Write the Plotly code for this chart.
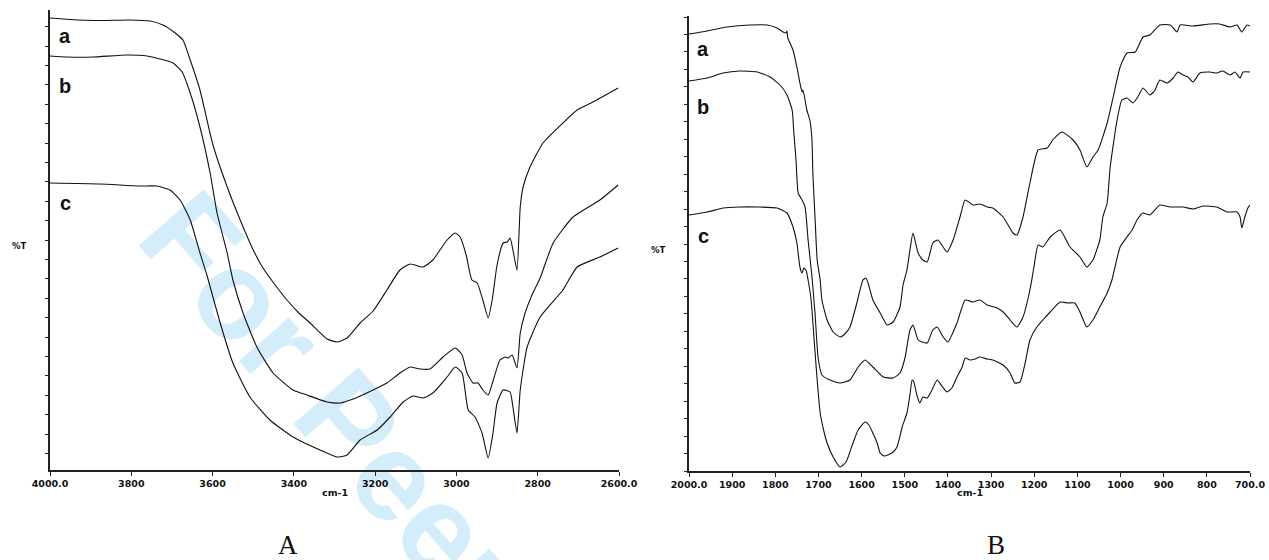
import plotly.graph_objects as go

W, H = 1269, 560

# ---------------- Panel A: 4000-2600 cm-1 ----------------
A_A_WN = [4000, 3951, 3877, 3803, 3754, 3722, 3692, 3673, 3655, 3631, 3599, 3564, 3532, 3500, 3476,
          3446, 3417, 3385, 3360, 3318, 3294, 3269, 3237, 3205, 3171, 3139, 3114, 3082, 3058, 3023,
          3003, 2991, 2976, 2962, 2949, 2935, 2922, 2912, 2900, 2885, 2875, 2868, 2861, 2851, 2843,
          2836, 2819, 2787, 2738, 2703, 2664, 2602]
A_A_T = [90.4, 90.1, 89.9, 90.0, 89.8, 89.0, 87.4, 86.0, 82.0, 76.0, 65.0, 56.6, 50.0, 44.0, 40.4,
         37.0, 34.0, 31.2, 29.4, 26.2, 25.6, 26.4, 29.4, 31.8, 36.0, 40.0, 41.2, 40.6, 42.0, 46.0,
         47.4, 46.6, 43.0, 38.0, 37.4, 34.0, 30.4, 34.0, 41.0, 45.4, 45.6, 46.4, 44.0, 40.0, 52.6,
         56.6, 60.6, 65.4, 69.4, 72.0, 73.6, 76.4]

A_B_WN = [4000, 3958, 3894, 3811, 3761, 3729, 3697, 3675, 3655, 3631, 3606, 3589, 3564, 3550, 3525,
          3491, 3451, 3402, 3368, 3318, 3286, 3254, 3205, 3171, 3139, 3114, 3090, 3065, 3033, 3003,
          2986, 2974, 2959, 2947, 2935, 2922, 2910, 2893, 2880, 2873, 2863, 2851, 2843, 2831, 2812,
          2794, 2762, 2713, 2647, 2602]
A_B_T = [82.8, 82.6, 82.6, 83.0, 82.8, 82.2, 81.4, 79.6, 75.4, 68.6, 59.4, 51.4, 43.4, 38.0, 31.4,
         24.6, 19.4, 16.0, 15.0, 13.6, 13.4, 14.2, 16.0, 17.4, 19.4, 20.6, 20.2, 20.2, 22.6, 24.4,
         23.0, 19.4, 17.4, 17.4, 16.0, 15.0, 17.8, 22.0, 22.6, 22.4, 23.0, 20.4, 27.4, 31.4, 35.4,
         38.4, 45.4, 50.6, 54.0, 57.0]

A_C_WN = [4000, 3877, 3779, 3737, 3705, 3680, 3655, 3631, 3614, 3582, 3550, 3508, 3459, 3402, 3336,
          3294, 3269, 3237, 3195, 3163, 3131, 3107, 3082, 3058, 3023, 3003, 2986, 2971, 2954, 2937,
          2922, 2910, 2900, 2885, 2868, 2861, 2851, 2843, 2826, 2794, 2738, 2703, 2647, 2602]
A_C_T = [57.4, 57.2, 56.8, 56.8, 56.0, 54.0, 50.0, 43.4, 39.0, 29.6, 21.4, 14.6, 10.0, 6.6, 4.0,
         2.6, 3.0, 6.0, 8.0, 10.6, 13.6, 14.8, 14.4, 15.4, 18.6, 20.6, 19.4, 12.0, 10.6, 7.4,
         2.4, 7.4, 13.4, 16.0, 15.6, 12.6, 7.4, 16.0, 24.6, 30.6, 36.0, 40.6, 42.6, 44.4]

A_TICKS = [4000, 3800, 3600, 3400, 3200, 3000, 2800, 2600]
A_TICKTEXT = ["4000.0", "3800", "3600", "3400", "3200", "3000", "2800", "2600.0"]

# ---------------- Panel B: 2000-700 cm-1 ----------------
B_A_WN = [2000, 1958, 1912, 1859, 1819, 1796, 1782, 1775, 1773, 1771, 1759, 1750, 1743, 1738, 1736,
          1731, 1727, 1720, 1715, 1713, 1708, 1703, 1696, 1692, 1680, 1666, 1650, 1639, 1627, 1611,
          1597, 1590, 1585, 1574, 1557, 1541, 1527, 1511, 1504, 1495, 1488, 1481, 1469, 1458, 1448,
          1435, 1423, 1402, 1388, 1372, 1360, 1342, 1326, 1309, 1296, 1272, 1249, 1240, 1226, 1210,
          1191, 1170, 1157, 1136, 1110, 1094, 1078, 1064, 1052, 1031, 1017, 1001, 985, 966, 948,
          932, 909, 885, 869, 862, 832, 793, 770, 746, 730, 719, 707, 700]
B_A_T = [87.4, 88.0, 88.8, 89.2, 89.2, 88.6, 87.8, 87.6, 88.0, 86.6, 84.2, 80.8, 77.6, 75.8, 76.2,
         74.2, 72.2, 70.2, 66.2, 59.6, 50.8, 42.2, 38.2, 34.2, 30.2, 27.8, 26.8, 27.4, 28.8, 33.6,
         38.2, 38.6, 37.6, 34.2, 31.6, 29.2, 29.8, 32.8, 37.2, 40.2, 44.2, 47.6, 43.6, 42.2, 41.8,
         45.6, 46.2, 43.8, 46.2, 50.8, 54.2, 53.2, 53.4, 52.8, 52.6, 50.8, 47.6, 47.2, 50.8, 57.6,
         64.2, 64.6, 66.2, 67.8, 66.2, 64.2, 60.8, 62.8, 64.2, 69.6, 74.8, 80.8, 83.6, 83.8, 86.8,
         87.2, 89.2, 89.2, 87.8, 89.2, 89.0, 89.4, 89.4, 88.8, 89.2, 87.8, 89.2, 89.0]

B_B_WN = [2000, 1958, 1921, 1882, 1842, 1812, 1789, 1773, 1761, 1757, 1752, 1747, 1738, 1731, 1724,
          1715, 1708, 1701, 1692, 1673, 1650, 1627, 1608, 1592, 1574, 1550, 1527, 1511, 1499, 1488,
          1481, 1469, 1460, 1448, 1435, 1425, 1411, 1400, 1379, 1360, 1342, 1326, 1309, 1286, 1272,
          1256, 1240, 1226, 1210, 1201, 1191, 1180, 1163, 1140, 1117, 1094, 1078, 1064, 1048, 1041,
          1031, 1024, 1008, 997, 985, 971, 960, 948, 932, 920, 909, 892, 878, 867, 855,
          844, 832, 816, 793, 777, 763, 746, 735, 723, 716, 700]
B_B_T = [78.0, 78.6, 79.6, 80.0, 79.8, 78.8, 77.2, 75.2, 72.2, 67.6, 62.2, 55.6, 54.2, 52.8, 46.2,
         38.8, 31.6, 22.8, 19.2, 18.2, 17.6, 18.2, 20.8, 22.2, 20.8, 18.8, 18.6, 19.6, 22.8, 28.2,
         29.2, 26.2, 25.8, 25.6, 28.2, 28.8, 26.8, 25.8, 29.6, 34.2, 33.8, 34.2, 33.2, 32.6, 31.8,
         30.2, 28.8, 30.8, 36.2, 40.6, 45.2, 44.8, 46.8, 48.2, 44.8, 42.8, 40.8, 42.2, 46.2, 50.8,
         53.6, 60.8, 70.2, 74.2, 74.6, 73.6, 74.8, 76.6, 75.2, 76.2, 78.2, 77.6, 78.6, 79.8, 79.2,
         78.8, 77.8, 79.6, 79.8, 79.6, 80.0, 79.2, 79.8, 78.6, 79.8, 79.8]

B_C_WN = [2000, 1958, 1921, 1882, 1842, 1796, 1773, 1759, 1750, 1743, 1738, 1734, 1729, 1724, 1717,
          1710, 1703, 1696, 1687, 1680, 1666, 1650, 1636, 1620, 1608, 1592, 1583, 1574, 1564, 1557,
          1548, 1539, 1527, 1518, 1506, 1495, 1488, 1483, 1479, 1472, 1465, 1458, 1448, 1437, 1425,
          1414, 1402, 1391, 1379, 1367, 1360, 1349, 1337, 1326, 1309, 1296, 1272, 1256, 1245, 1233,
          1221, 1210, 1194, 1180, 1163, 1140, 1122, 1106, 1094, 1078, 1064, 1048, 1031, 1020, 1001,
          985, 973, 962, 948, 932, 909, 885, 855, 832, 809, 777, 753, 730, 723, 719,
          712, 705, 700]
B_C_T = [51.2, 51.8, 52.6, 52.8, 52.8, 52.6, 51.6, 48.8, 45.6, 40.8, 39.6, 40.6, 40.2, 38.2, 34.2,
         26.2, 18.2, 11.6, 7.8, 5.6, 2.8, 0.8, 1.8, 5.6, 8.2, 9.8, 9.2, 7.6, 5.6, 3.6,
         3.0, 3.2, 3.8, 4.8, 8.8, 11.6, 15.2, 18.2, 17.8, 15.2, 13.6, 14.8, 14.6, 16.2, 18.2,
         17.0, 15.8, 16.6, 18.8, 20.8, 22.6, 22.2, 22.4, 22.8, 22.4, 22.2, 21.2, 19.6, 17.6, 17.8,
         21.6, 26.2, 28.8, 30.2, 31.8, 33.8, 33.6, 33.6, 31.8, 28.8, 30.2, 32.8, 35.6, 38.2, 44.8,
         46.8, 48.2, 50.2, 51.6, 51.2, 53.2, 52.8, 52.8, 52.4, 53.0, 52.8, 51.8, 51.8, 50.8, 48.6,
         50.8, 52.6, 53.2]

B_TICKS = [2000, 1900, 1800, 1700, 1600, 1500, 1400, 1300, 1200, 1100, 1000, 900, 800, 700]
B_TICKTEXT = ["2000.0", "1900", "1800", "1700", "1600", "1500", "1400", "1300", "1200", "1100",
              "1000", "900", "800", "700.0"]

SAMPLES = ["a", "b", "c"]
X_TITLE = "cm-1"
Y_TITLE = "%T"
PANELS = ["A", "B"]
WATERMARK = "For Peer Review"


def px(x):
    return x / W


def py(y):
    return 1 - y / H


fig = go.Figure()

line_style = dict(color="#111111", width=1.1, shape="spline", smoothing=0.5)
for wn, t in [(A_A_WN, A_A_T), (A_B_WN, A_B_T), (A_C_WN, A_C_T)]:
    fig.add_trace(go.Scatter(x=wn, y=t, mode="lines", line=line_style,
                             xaxis="x", yaxis="y", showlegend=False, hoverinfo="skip"))
for wn, t in [(B_A_WN, B_A_T), (B_B_WN, B_B_T), (B_C_WN, B_C_T)]:
    fig.add_trace(go.Scatter(x=wn, y=t, mode="lines", line=line_style,
                             xaxis="x2", yaxis="y2", showlegend=False, hoverinfo="skip"))

tick_font = dict(family="DejaVu Sans", size=9.5, color="#111111", weight="bold")
axis_common = dict(showgrid=False, zeroline=False, showline=True, linecolor="#222222",
                   linewidth=1.5, ticks="outside", tickcolor="#222222", tickwidth=1,
                   automargin=False)

fig.update_layout(
    width=W, height=H,
    autosize=False,
    showlegend=False,
    margin=dict(l=0, r=0, t=0, b=0, pad=0, autoexpand=False),
    paper_bgcolor="white",
    plot_bgcolor="rgba(0,0,0,0)",
    xaxis=dict(domain=[px(50), px(619)], range=[4000, 2600], anchor="y",
               tickvals=A_TICKS, ticktext=A_TICKTEXT, ticklen=4, tickfont=tick_font, **axis_common),
    yaxis=dict(domain=[py(470), py(10)], range=[0, 92], anchor="x",
               tickmode="linear", tick0=3.3, dtick=3.88, ticklen=3, showticklabels=False,
               **axis_common),
    xaxis2=dict(domain=[px(689), px(1250)], range=[2000, 700], anchor="y2",
                tickvals=B_TICKS, ticktext=B_TICKTEXT, ticklen=4, tickfont=tick_font, **axis_common),
    yaxis2=dict(domain=[py(471), py(16)], range=[0, 91], anchor="x2",
                tickmode="linear", tick0=0, dtick=3.492, ticklen=3, showticklabels=False,
                **axis_common),
)

# Watermark drawn beneath the spectra as a rotated label on an invisible line
wm_cx, wm_cy = 494, 570
fig.add_shape(type="line", xref="paper", yref="paper", layer="below",
              x0=px(wm_cx - 200 * 0.656), y0=py(wm_cy - 200 * 0.755),
              x1=px(wm_cx + 200 * 0.656), y1=py(wm_cy + 200 * 0.755),
              line=dict(color="rgba(0,0,0,0)", width=0),
              label=dict(text=WATERMARK, textposition="middle", yanchor="middle",
                         font=dict(family="Liberation Sans", size=125, color="#d4edfa",
                                   weight="bold")))

ann = []
label_font = dict(family="Liberation Sans", size=20, color="#111111", weight="bold")
for name, yy in zip(SAMPLES, [36, 86, 203]):
    ann.append(dict(x=px(65), y=py(yy), text=name, font=label_font))
for name, yy in zip(SAMPLES, [49, 107, 236]):
    ann.append(dict(x=px(703), y=py(yy), text=name, font=label_font))

small_font = dict(family="DejaVu Sans", size=8.5, color="#111111", weight="bold")
ann.append(dict(x=px(20), y=py(246), text=Y_TITLE, font=small_font))
ann.append(dict(x=px(658), y=py(250), text=Y_TITLE, font=small_font))
ann.append(dict(x=px(334.5), y=py(492), text=X_TITLE, font=tick_font))
ann.append(dict(x=px(969.5), y=py(492), text=X_TITLE, font=tick_font))

panel_font = dict(family="Liberation Serif", size=27, color="#111111")
ann.append(dict(x=px(288), y=py(545), text=PANELS[0], font=panel_font))
ann.append(dict(x=px(996), y=py(545), text=PANELS[1], font=panel_font))

for a in ann:
    a.update(xref="paper", yref="paper", showarrow=False, xanchor="center", yanchor="middle")
fig.update_layout(annotations=ann)

fig.write_html("out.html")
